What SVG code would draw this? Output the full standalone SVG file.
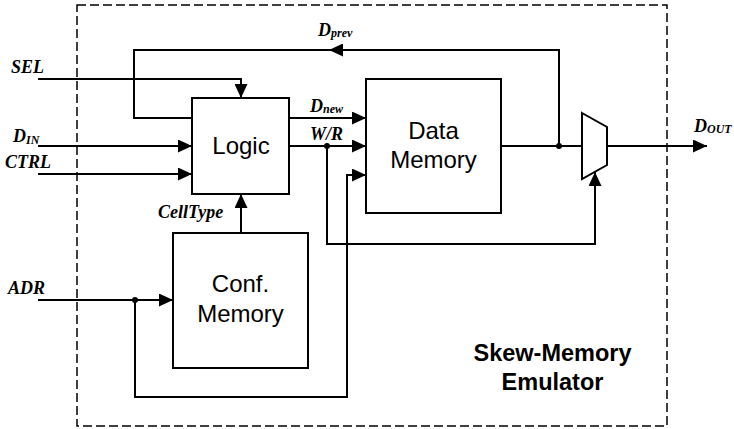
<svg xmlns="http://www.w3.org/2000/svg" width="734" height="429" viewBox="0 0 734 429">
<defs>
<marker id="ah" viewBox="0 0 14 13" refX="14" refY="6.5" markerWidth="14" markerHeight="13" markerUnits="userSpaceOnUse" orient="auto">
<path d="M0,0 L14,6.5 L0,13 Z" fill="#000"/>
</marker>
</defs>
<style>
.box{fill:#fff;stroke:#000;stroke-width:2}
.w{fill:none;stroke:#000;stroke-width:2}
.a{marker-end:url(#ah)}
.lab{font-family:"Liberation Serif",serif;font-weight:bold;font-style:italic;font-size:18px;fill:#000}
.sub{font-size:12px}
.nt{font-family:"Liberation Sans",Arial,sans-serif;font-size:24px;fill:#000;text-anchor:middle}
.ttl{font-family:"Liberation Sans",Arial,sans-serif;font-weight:bold;font-size:23.5px;fill:#000;text-anchor:middle}
.dot{fill:#000}
</style>
<rect x="77" y="5" width="590" height="421" fill="none" stroke="#000" stroke-width="1.5" stroke-dasharray="9,4"/>
<g id="connectors">
<path class="w a" d="M559,146 V50 H329"/>
<path class="w" d="M330,50 H134 V118 H192"/>
<path class="w a" d="M38,79 H241 V98"/>
<path class="w a" d="M38,146 H192"/>
<path class="w a" d="M38,174 H192"/>
<path class="w a" d="M289,118 H366"/>
<path class="w a" d="M289,146 H366"/>
<path class="w a" d="M327,146 V244 H595 V172"/>
<path class="w a" d="M38,300 H173"/>
<path class="w a" d="M135,300 V397 H347 V175 H366"/>
<path class="w a" d="M241,233 V194"/>
<path class="w" d="M501,146 H582"/>
<path class="w a" d="M607,146 H707"/>
<circle class="dot" cx="559" cy="146" r="3"/>
<circle class="dot" cx="327" cy="146" r="3"/>
<circle class="dot" cx="135" cy="300" r="3"/>
</g>
<g id="logic">
<rect class="box" x="192" y="98" width="97" height="96"/>
<text class="nt" x="241" y="154">Logic</text>
</g>
<g id="data-memory">
<rect class="box" x="366" y="79" width="135" height="134"/>
<text class="nt" x="433.5" y="139">Data</text>
<text class="nt" x="433.5" y="168">Memory</text>
</g>
<g id="conf-memory">
<rect class="box" x="173" y="233" width="135" height="135"/>
<text class="nt" x="240.5" y="292">Conf.</text>
<text class="nt" x="240.5" y="322">Memory</text>
</g>
<g id="mux">
<path class="box" d="M582,113 L607,127 L607,165 L582,179 Z"/>
</g>
<g id="labels">
<text class="lab" x="11" y="73">SEL</text>
<text class="lab" x="13" y="142">D<tspan class="sub" dy="2">IN</tspan></text>
<text class="lab" x="5" y="168">CTRL</text>
<text class="lab" x="8" y="294">ADR</text>
<text class="lab" x="158" y="218">CellType</text>
<text class="lab" x="318" y="36">D<tspan class="sub" dy="1">prev</tspan></text>
<text class="lab" x="310" y="112">D<tspan class="sub" dy="1">new</tspan></text>
<text class="lab" x="310" y="140">W/R</text>
<text class="lab" x="694" y="132">D<tspan class="sub" dy="1">OUT</tspan></text>
</g>
<g id="title">
<text class="ttl" x="552.5" y="361">Skew-Memory</text>
<text class="ttl" x="552.5" y="390">Emulator</text>
</g>
</svg>
